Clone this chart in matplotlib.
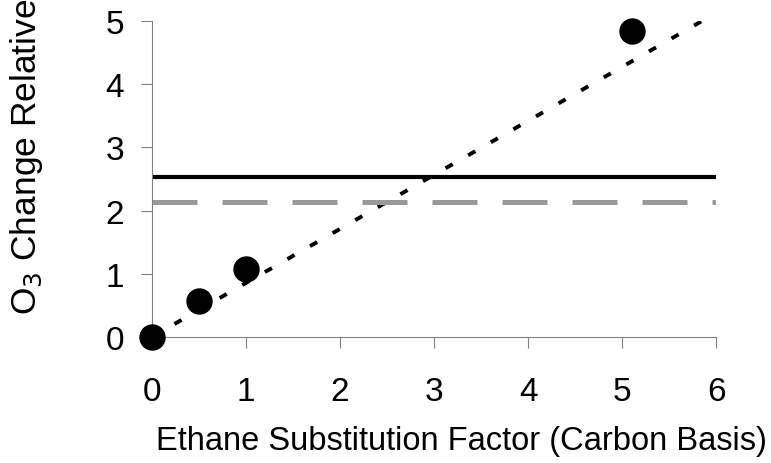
import matplotlib.pyplot as plt

plt.rcParams["font.family"] = ["Liberation Sans", "DejaVu Sans"]

# measured points
sub_factor = [0.0, 0.5, 1.0, 5.1]
o3_change = [0.0, 0.57, 1.08, 4.84]

# fitted trend (through origin) and the two reference levels
trend_x = [0.0, 6.0]
trend_slope = 0.855
level_solid = 2.53
level_dashed = 2.13

x_ticks = [0, 1, 2, 3, 4, 5, 6]
y_ticks = [0, 1, 2, 3, 4, 5]

fig = plt.figure(figsize=(7.71, 4.64), dpi=100)
ax = fig.add_axes([0.197, 0.2716, 0.732, 0.681])

ax.plot(trend_x, [trend_slope * x for x in trend_x], color="black", lw=2.8,
        dashes=(2.1, 4.6), solid_capstyle="butt", dash_capstyle="butt", zorder=2)
ax.plot(trend_x, [level_solid] * 2, color="black", lw=3.0, zorder=2)
ax.plot(trend_x, [level_dashed] * 2, color="#999999", lw=3.6,
        dashes=(9, 5), zorder=2)
ax.plot(sub_factor, o3_change, "o", color="black", markersize=18,
        clip_on=False, zorder=3)

ax.set_xlim(0, 6)
ax.set_ylim(0, 5)
ax.set_xticks(x_ticks)
ax.set_yticks(y_ticks)

for side in ["top", "right"]:
    ax.spines[side].set_visible(False)
for side in ["left", "bottom"]:
    ax.spines[side].set_color("#808080")
    ax.spines[side].set_linewidth(0.8)

ax.tick_params(axis="both", direction="out", length=8, width=0.8,
               color="#808080", labelsize=24)
ax.tick_params(axis="x", pad=20)
ax.tick_params(axis="y", pad=12)

ax.set_xlabel("Ethane Substitution Factor (Carbon Basis)", fontsize=23.5)
ax.xaxis.set_label_coords(0.548, -0.28, transform=ax.transAxes)
ax.xaxis.label.set_va("top")
fig.text(27 / 771, (464 - 315) / 464, "O$_3$ Change Relative",
         rotation=90, ha="center", va="bottom", fontsize=25.5)

fig.savefig("out.png", dpi=100)
